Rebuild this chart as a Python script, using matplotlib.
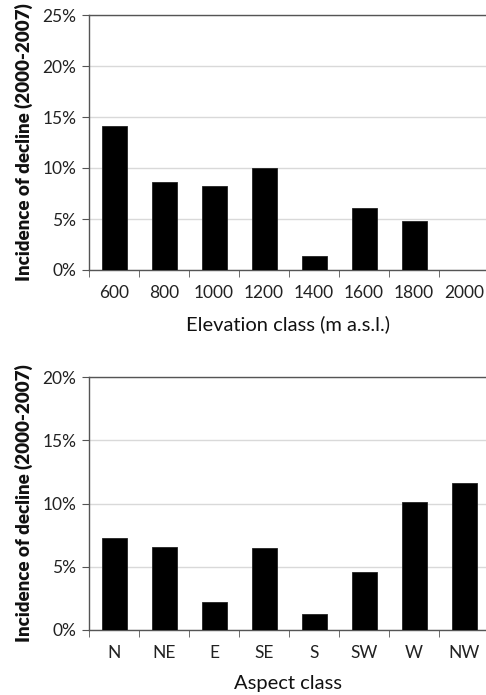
import matplotlib.pyplot as plt
import numpy as np
from matplotlib.ticker import FuncFormatter

plt.rcParams['font.family'] = ['Lato', 'DejaVu Sans']

elev_classes = ['600', '800', '1000', '1200', '1400', '1600', '1800', '2000']
elev_decline = [14.1, 8.6, 8.2, 10.0, 1.4, 6.1, 4.8, 0.0]

aspect_classes = ['N', 'NE', 'E', 'SE', 'S', 'SW', 'W', 'NW']
aspect_decline = [7.25, 6.55, 2.2, 6.45, 1.3, 4.6, 10.1, 11.6]

fig = plt.figure(figsize=(4.86, 6.95), dpi=100)

def panel(rect, cats, vals, ymax, xlabel):
    ax = fig.add_axes(rect)
    x = np.arange(len(cats))
    ax.bar(x, vals, width=0.5, color='black', edgecolor='#222222', linewidth=0.6, zorder=3)
    ax.set_xlim(-0.5, 7.44)
    ax.set_ylim(0, ymax)
    ax.set_yticks(np.arange(0, ymax + 1, 5))
    ax.yaxis.set_major_formatter(FuncFormatter(lambda v, p: f'{v:.0f}%'))
    ax.grid(axis='y', color='#d9d9d9', linewidth=1.0, zorder=0)
    ax.set_xticks(x)
    ax.set_xticklabels(cats)
    ax.set_xticks(np.arange(len(cats)) - 0.5, minor=True)
    ax.tick_params(axis='x', which='major', length=0, pad=11, labelsize=12.5, labelcolor='#222222')
    ax.tick_params(axis='x', which='minor', length=5, direction='out', color='#555555')
    ax.tick_params(axis='y', length=5, pad=4, labelsize=12.5, labelcolor='#222222', color='#555555')
    for s in ['left', 'bottom', 'top']:
        ax.spines[s].set_color('#555555')
        ax.spines[s].set_linewidth(1.0)
    ax.spines['right'].set_visible(False)
    ax.set_xlabel(xlabel, fontsize=14.5, labelpad=10, color='#111111')
    ax.set_ylabel('Incidence of decline (2000-2007)', fontsize=13.5, fontweight='heavy',
                  labelpad=7, color='#111111')
    return ax

panel([89 / 486, 425 / 695, 397 / 486, 255 / 695], elev_classes, elev_decline, 25,
      'Elevation class (m a.s.l.)')
panel([89 / 486, 65 / 695, 397 / 486, 253 / 695], aspect_classes, aspect_decline, 20,
      'Aspect class')

fig.savefig('out.png', dpi=100)
